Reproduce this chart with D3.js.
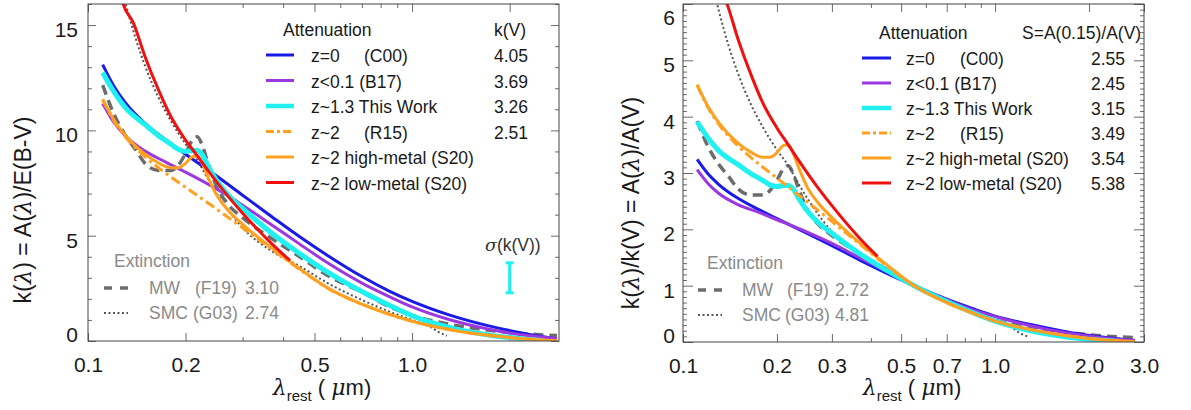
<!DOCTYPE html>
<html><head><meta charset="utf-8">
<script src="https://cdn.jsdelivr.net/npm/d3@7"></script>
<style>
body{margin:0;background:#fff}
svg{display:block}
text{font-family:'Liberation Sans',Arial,Helvetica,sans-serif}
</style></head>
<body><svg id="c" width="1191" height="410"></svg>
<script>
// ---------------- DATA ----------------
const lamSmooth = [0.111,0.12,0.13,0.15,0.175,0.2,0.25,0.3,0.37,0.45,0.55,0.7,0.85,1.0,1.3,1.7,2.2,2.8];
const c00K = [13.12,12.12,11.34,10.33,9.51,8.87,7.82,6.92,5.89,4.95,4.05,3.06,2.37,1.88,1.24,0.74,0.37,0.10];
const c00N = [3.24,2.99,2.80,2.55,2.35,2.19,1.93,1.71,1.45,1.22,1.00,0.76,0.59,0.46,0.31,0.18,0.09,0.025];
const b17K = [11.28,10.40,9.76,9.02,8.47,8.02,7.21,6.45,5.50,4.60,3.70,2.75,2.11,1.62,1.02,0.58,0.28,0.12];
const b17N = [3.06,2.82,2.64,2.44,2.30,2.17,1.95,1.75,1.49,1.25,1.00,0.75,0.57,0.45,0.29,0.16,0.076,0.03];
const r15K = [11.44,10.47,9.72,8.74,7.93,7.30,6.25,5.37,4.34,3.40,2.50,1.745,1.27,0.94,0.544,0.273,0.106,0.006];
const r15N = [4.56,4.17,3.87,3.48,3.16,2.91,2.49,2.14,1.73,1.35,1.00,0.70,0.51,0.37,0.22,0.11,0.04,0.00];

const lamBump = [0.111,0.12,0.13,0.15,0.165,0.18,0.19,0.2,0.21,0.2175,0.225,0.235,0.25,0.27,0.3,0.37,0.45,0.55,0.7,0.85,1.0,1.3,1.7,2.2,2.8];
const s20hK = [11.48,10.52,9.79,8.87,8.45,8.23,8.23,8.43,8.75,8.78,8.44,7.75,6.91,6.22,5.54,4.40,3.43,2.51,1.75,1.27,0.94,0.55,0.28,0.11,0.02];
const s20hN = [4.57,4.19,3.90,3.53,3.37,3.28,3.28,3.36,3.49,3.50,3.36,3.09,2.75,2.48,2.21,1.75,1.37,1.00,0.70,0.51,0.37,0.22,0.11,0.04,0.01];

const lamTW = [0.111,0.12,0.13,0.15,0.165,0.18,0.19,0.2,0.21,0.2175,0.225,0.235,0.25,0.27,0.3,0.37,0.45,0.55,0.7,0.85,1.0,1.3,1.7,2.2,2.5];
const twK = [12.75,11.85,11.1,10.27,9.75,9.35,9.1,9.0,9.05,9.05,8.85,8.3,7.6,6.95,6.3,5.1,4.15,3.26,2.35,1.7,1.2,0.65,0.3,0.1,0.03];
const twN = [3.91,3.63,3.40,3.15,2.99,2.87,2.79,2.76,2.78,2.78,2.72,2.55,2.33,2.13,1.93,1.56,1.27,1.00,0.72,0.52,0.37,0.20,0.09,0.03,0.01];

const lamRed = [0.12,0.128,0.1384,0.15,0.165,0.18,0.2,0.2175,0.235,0.26,0.3,0.37,0.42];
const s20lK = [18.07,16.06,15.06,13.50,11.92,10.67,9.54,8.79,8.08,7.20,6.07,4.60,3.82];
const s20lN = [7.20,6.40,6.00,5.38,4.75,4.25,3.80,3.50,3.22,2.87,2.42,1.83,1.52];

const lamMW = [0.111,0.12,0.13,0.14,0.15,0.165,0.18,0.19,0.2,0.21,0.2175,0.225,0.235,0.25,0.27,0.3,0.37,0.45,0.55,0.7,0.85,1.0,1.3,1.7,2.2,2.8];
const mwK = [12.15,10.8,9.8,9.1,8.43,8.1,8.1,8.35,8.9,9.55,9.7,9.3,8.4,7.3,6.5,5.85,4.85,4.0,3.1,2.32,1.63,1.22,0.8,0.52,0.35,0.26];
const mwN = [3.92,3.48,3.16,2.94,2.72,2.61,2.61,2.69,2.87,3.08,3.13,3.00,2.71,2.35,2.10,1.89,1.56,1.29,1.00,0.75,0.53,0.39,0.26,0.17,0.11,0.08];

const lamSMC = [0.125,0.13,0.14,0.15,0.165,0.18,0.2,0.2175,0.235,0.26,0.3,0.37,0.45,0.55,0.7,0.85,1.0,1.13,1.2,1.28];
const smcK = [17.24,16.16,14.41,13.06,11.56,10.46,9.35,8.58,7.67,6.59,5.37,4.25,3.55,2.74,1.95,1.40,1.0,0.7,0.45,0.25];
const smcN = [6.29,5.90,5.26,4.77,4.22,3.82,3.41,3.13,2.80,2.41,1.96,1.55,1.30,1.00,0.71,0.51,0.36,0.26,0.16,0.09];

const attNames = ["z=0","z<0.1 (B17)","z~1.3 This Work","z~2","z~2 high-metal (S20)","z~2 low-metal (S20)"];
const attRefs = ["(C00)","","","(R15)","",""];
const kvValues = ["4.05","3.69","3.26","2.51","",""];
const sValues = ["2.55","2.45","3.15","3.49","3.54","5.38"];
const extNames = ["MW","SMC"];
const extRefs = ["(F19)","(G03)"];
const extKv = ["3.10","2.74"];
const extS = ["2.72","4.81"];

const errLam = [2.0], errK = [3.0], errSig = [0.71];

const xMajL = [0.1,0.2,0.5,1.0,2.0], xMinL = [0.3,0.4,0.6,0.7,0.8,0.9];
const xMajR = [0.1,0.2,0.3,0.5,0.7,1.0,2.0,3.0], xMinR = [0.4,0.6,0.8,0.9];
const yMajL = [0,5,10,15], yMajR = [0,1,2,3,4,5,6];

// ---------------- STYLES ----------------
const att = [
  {color:"#1a1ae6", w:3, dash:null},
  {color:"#9b38e0", w:3, dash:null},
  {color:"#1ff0f0", w:5, dash:null},
  {color:"#ffa020", w:3, dash:"10,4,3,4"},
  {color:"#ffa020", w:3, dash:null},
  {color:"#f01010", w:3, dash:null}
];
const svg = d3.select("#c");
svg.append("rect").attr("width",1191).attr("height",410).attr("fill","#fff");

function panel(cfg){
  const g = svg.append("g");
  const x = d3.scaleLog().domain(cfg.xd).range([cfg.x0,cfg.x1]);
  const y = d3.scaleLinear().domain(cfg.yd).range([cfg.y1,cfg.y0]);
  const cid = "clip"+cfg.id;
  svg.append("defs").append("clipPath").attr("id",cid).append("rect")
    .attr("x",cfg.x0).attr("y",cfg.y0).attr("width",cfg.x1-cfg.x0).attr("height",cfg.y1-cfg.y0);

  const ax = g.append("g").attr("class","axes");
  const tk = (sel)=>{sel.select(".domain").remove(); sel.selectAll("line").attr("stroke","#6a6a6a");};
  const lab = (s)=>s.selectAll("text").attr("font-size",21).attr("fill","#1a1a1a").attr("font-family","'Liberation Sans',Arial,sans-serif");
  // bottom
  ax.append("g").attr("transform",`translate(0,${cfg.y1})`)
    .call(d3.axisBottom(x).tickValues(cfg.xMaj).tickSize(-8).tickPadding(16).tickFormat(d3.format(".1f")))
    .call(tk).call(lab);
  ax.append("g").attr("transform",`translate(0,${cfg.y1})`)
    .call(d3.axisBottom(x).tickValues(cfg.xMin).tickSize(-4).tickFormat("")).call(tk);
  // top
  ax.append("g").attr("transform",`translate(0,${cfg.y0})`)
    .call(d3.axisTop(x).tickValues(cfg.xMaj).tickSize(-8).tickFormat("")).call(tk);
  ax.append("g").attr("transform",`translate(0,${cfg.y0})`)
    .call(d3.axisTop(x).tickValues(cfg.xMin).tickSize(-4).tickFormat("")).call(tk);
  // left
  const yl = ax.append("g").attr("transform",`translate(${cfg.x0},0)`)
    .call(d3.axisLeft(y).tickValues(cfg.yMaj).tickSize(-cfg.majLen).tickPadding(cfg.ypad).tickFormat(d3.format("d")))
    .call(tk).call(lab);
  yl.selectAll("text").attr("dy", d => d===cfg.yd[0] ? "0em" : (d===cfg.yTopLabel ? "0.98em" : "0.54em"));
  ax.append("g").attr("transform",`translate(${cfg.x0},0)`)
    .call(d3.axisLeft(y).tickValues(cfg.yMin).tickSize(-4).tickFormat("")).call(tk);
  // right
  ax.append("g").attr("transform",`translate(${cfg.x1},0)`)
    .call(d3.axisRight(y).tickValues(cfg.yMaj).tickSize(-cfg.majLen).tickFormat("")).call(tk);
  ax.append("g").attr("transform",`translate(${cfg.x1},0)`)
    .call(d3.axisRight(y).tickValues(cfg.yMin).tickSize(-4).tickFormat("")).call(tk);

  // curves
  const cg = g.append("g").attr("clip-path",`url(#${cid})`);
  const line = d3.line().x(d=>x(d[0])).y(d=>y(d[1])).curve(d3.curveMonotoneX);
  const draw = (lam, vals, color, w, dash) => {
    cg.append("path").datum(d3.zip(lam, vals)).attr("d", line)
      .attr("fill","none").attr("stroke",color).attr("stroke-width",w)
      .attr("stroke-dasharray",dash).attr("stroke-linejoin","round");
  };
  draw(lamMW, cfg.mw, "#6c6c6c", 3.5, "10,6");
  draw(lamSMC, cfg.smc, "#555", 2, "2,2.5");
  cfg.series.forEach((s,i)=> draw(s[0], s[1], att[i].color, att[i].w, att[i].dash));

  // frame
  g.append("rect").attr("x",cfg.x0).attr("y",cfg.y0).attr("width",cfg.x1-cfg.x0).attr("height",cfg.y1-cfg.y0)
    .attr("fill","none").attr("stroke","#444").attr("stroke-width",1);
  return {x,y,g};
}

const L = panel({id:"L", x0:88, x1:559, y0:4, y1:341, xd:[0.1,2.84], yd:[0,16],
  xMaj:xMajL, xMin:xMinL, yMaj:yMajL, yMin:d3.range(0,17).filter(v=>v%5!==0),
  majLen:8, ypad:10, yTopLabel:null, mw:mwK, smc:smcK,
  series:[[lamSmooth,c00K],[lamSmooth,b17K],[lamTW,twK],[lamSmooth,r15K],[lamBump,s20hK],[lamRed,s20lK]]});
const R = panel({id:"R", x0:683, x1:1144, y0:4, y1:342, xd:[0.1,3.0], yd:[0,6],
  xMaj:xMajR, xMin:xMinR, yMaj:yMajR, yMin:d3.range(0,61).filter(v=>v%10!==0).map(v=>v/10),
  majLen:10, ypad:8, yTopLabel:6, mw:mwN, smc:smcN,
  series:[[lamSmooth,c00N],[lamSmooth,b17N],[lamTW,twN],[lamSmooth,r15N],[lamBump,s20hN],[lamRed,s20lN]]});

// error bar (left panel)
errLam.forEach((l,i)=>{
  const xx = L.x(l), yt = L.y(errK[i]+errSig[i]), yb = L.y(errK[i]-errSig[i]);
  const eg = L.g.append("g").attr("stroke","#1ff0f0").attr("stroke-width",3);
  eg.append("line").attr("x1",xx).attr("x2",xx).attr("y1",yt).attr("y2",yb);
  eg.append("line").attr("x1",xx-4).attr("x2",xx+4).attr("y1",yt).attr("y2",yt);
  eg.append("line").attr("x1",xx-4).attr("x2",xx+4).attr("y1",yb).attr("y2",yb);
});
svg.append("text").attr("x",485).attr("y",251).attr("font-size",17.5).attr("fill","#333")
  .call(t=>{t.append("tspan").attr("font-style","italic").attr("font-family","'DejaVu Serif',serif").text("σ"); t.append("tspan").text("(k(V))");});

// axis titles
function lam(t){ t.append("tspan").attr("font-style","italic").attr("font-family","'DejaVu Serif',serif").text("λ"); }
svg.append("text").attr("transform","translate(31,210) rotate(-90)").attr("text-anchor","middle")
  .attr("font-size",23).attr("fill","#1a1a1a")
  .call(t=>{t.append("tspan").text("k("); lam(t); t.append("tspan").text(") = A("); lam(t); t.append("tspan").text(")/E(B-V)");});
svg.append("text").attr("transform","translate(639,203) rotate(-90)").attr("text-anchor","middle")
  .attr("font-size",23).attr("fill","#1a1a1a")
  .call(t=>{t.append("tspan").text("k("); lam(t); t.append("tspan").text(")/k(V) = A("); lam(t); t.append("tspan").text(")/A(V)");});
[[322],[912]].forEach(([cx])=>{
  svg.append("text").attr("x",cx).attr("y",395).attr("text-anchor","middle").attr("font-size",22).attr("fill","#1a1a1a")
    .call(t=>{ lam(t); t.append("tspan").attr("font-size",15).attr("dy",6).text("rest");
      t.append("tspan").attr("dy",-6).text(" ( ");
      t.append("tspan").attr("font-style","italic").attr("font-family","'DejaVu Serif',serif").text("μ");
      t.append("tspan").text("m)"); });
});

// legends
function legend(o){
  const g = svg.append("g").attr("font-size",17.5).attr("fill","#1a1a1a");
  g.append("text").attr("x",o.tx0).attr("y",o.hy).text("Attenuation");
  g.append("text").attr("x",o.vx).attr("y",o.hy).text(o.head);
  attNames.forEach((n,i)=>{
    const ly = o.ly0 + i*o.dy;
    g.append("line").attr("x1",o.lx0).attr("x2",o.lx1).attr("y1",ly).attr("y2",ly)
      .attr("stroke",att[i].color).attr("stroke-width",att[i].w===5?4.5:3).attr("stroke-dasharray",att[i].dash ? "8,3,3,3" : null);
    g.append("text").attr("x",o.tx).attr("y",ly+7).text(n);
    if(attRefs[i]) g.append("text").attr("x",o.rx).attr("y",ly+7).text(attRefs[i]);
    if(o.vals[i]) g.append("text").attr("x",o.vx2).attr("y",ly+7).text(o.vals[i]);
  });
  const e = svg.append("g").attr("font-size",17.5).attr("fill","#8a8a8a");
  e.append("text").attr("x",o.ex).attr("y",o.ey).text("Extinction");
  extNames.forEach((n,i)=>{
    const ly = o.ey + 21 + i*25;
    e.append("line").attr("x1",o.elx0).attr("x2",o.elx0+24).attr("y1",ly).attr("y2",ly)
      .attr("stroke", i===0?"#6c6c6c":"#555").attr("stroke-width", i===0?3.5:2).attr("stroke-dasharray", i===0?"8,8":"2,2.5");
    e.append("text").attr("x",o.etx).attr("y",ly+6).text(n);
    e.append("text").attr("x",o.erx[i]).attr("y",ly+6).text(extRefs[i]);
    e.append("text").attr("x",o.evx).attr("y",ly+6).text(o.evals[i]);
  });
}
legend({tx0:283, hy:36, head:"k(V)", vx:494, vx2:494, ly0:55, dy:25.5, lx0:266, lx1:294, tx:311, rx:364, vals:kvValues,
  ex:114, ey:267, elx0:104, etx:149, erx:[195,193], evx:245, evals:extKv});
legend({tx0:879, hy:39, head:"S=A(0.15)/A(V)", vx:1022, vx2:1091, ly0:58, dy:25, lx0:862, lx1:891, tx:906, rx:960, vals:sValues,
  ex:707, ey:269, elx0:698, etx:742, erx:[787,785], evx:835, evals:extS});
</script></body></html>
